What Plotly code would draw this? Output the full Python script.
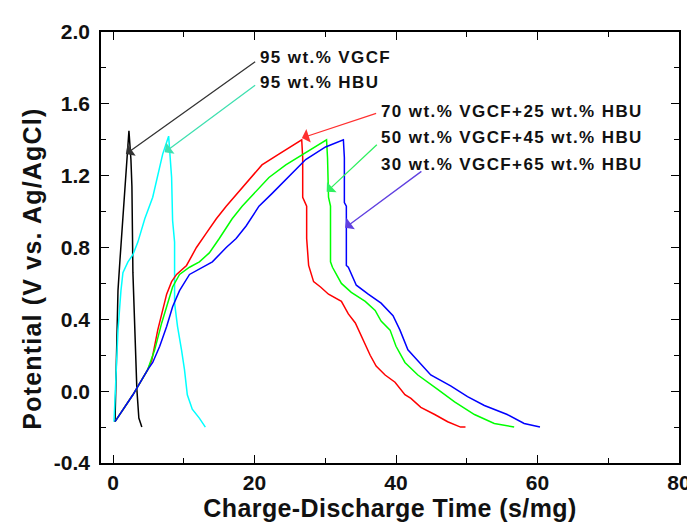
import plotly.graph_objects as go

# ---- data ----
vgcf_x = [0.28, 0.56, 0.70, 0.98, 1.40, 1.68, 1.96, 2.25, 2.53, 2.67, 2.81, 3.09, 3.37, 3.65, 4.07]
vgcf_y = [-0.17, 0.24, 0.56, 0.73, 0.98, 1.14, 1.29, 1.45, 1.29, 1.14, 0.66, 0.34, 0.01, -0.15, -0.20]

hbu_x = [0.14, 0.56, 0.70, 1.12, 1.40, 2.11, 2.81, 3.51, 4.49, 5.61, 7.02, 7.86,
         8.28, 8.42, 8.70, 8.70, 9.12, 9.68, 10.1, 10.5, 11.2, 12.2, 13.05]
hbu_y = [-0.17, 0.16, 0.34, 0.56, 0.66, 0.72, 0.76, 0.83, 0.96, 1.08, 1.32, 1.42,
         1.19, 0.95, 0.83, 0.49, 0.36, 0.23, 0.12, -0.02, -0.10, -0.15, -0.20]

m70_x = [0.28, 2.81, 4.91, 5.47, 6.32, 7.02, 7.58, 8.28, 8.98, 10.39, 11.79, 13.19, 14.60, 16.00,
         19.23, 21.05, 23.44, 26.67, 26.81, 26.81, 27.37, 27.37, 27.65, 28.35, 29.33, 30.46,
         32.28, 33.26, 34.25, 35.37, 36.35, 37.19, 38.46, 39.86, 41.26, 42.11, 43.51, 45.47,
         47.30, 49.12, 49.82]
m70_y = [-0.17, -0.02, 0.12, 0.17, 0.34, 0.45, 0.54, 0.61, 0.65, 0.70, 0.80, 0.88, 0.96, 1.03,
         1.18, 1.26, 1.32, 1.40, 1.30, 1.08, 1.03, 0.85, 0.70, 0.61, 0.58, 0.54,
         0.50, 0.43, 0.38, 0.28, 0.20, 0.14, 0.09, 0.05, -0.02, -0.04, -0.09, -0.13,
         -0.17, -0.20, -0.20]

m50_x = [0.28, 2.81, 4.91, 5.89, 6.88, 7.72, 8.42, 9.40, 10.81, 12.21, 13.61, 15.02, 16.84, 18.25,
         19.23, 22.04, 24.42, 26.95, 30.18, 30.32, 30.46, 30.74, 30.74, 31.02, 32.28, 33.68,
         35.65, 37.05, 37.89, 39.16, 40.00, 41.26, 43.09, 45.89, 48.28, 51.09, 53.89, 56.70]
m50_y = [-0.17, -0.02, 0.12, 0.23, 0.38, 0.49, 0.58, 0.65, 0.69, 0.72, 0.77, 0.85, 0.96, 1.03,
         1.07, 1.19, 1.26, 1.32, 1.40, 1.30, 1.08, 1.03, 0.72, 0.69, 0.60, 0.55,
         0.50, 0.45, 0.39, 0.34, 0.25, 0.16, 0.09, 0.01, -0.06, -0.13, -0.18, -0.20]

m30_x = [0.28, 2.81, 4.91, 5.61, 6.60, 7.58, 8.42, 9.40, 10.81, 12.63, 14.04, 16.00, 17.40, 18.81,
         20.63, 22.46, 24.42, 27.23, 30.04, 32.56, 32.70, 32.70, 32.98, 32.98, 33.26, 34.39,
         36.07, 37.89, 39.58, 40.56, 41.68, 43.09, 44.91, 47.72, 50.11, 52.49, 55.72, 58.11, 60.35]
m30_y = [-0.17, -0.02, 0.12, 0.16, 0.25, 0.36, 0.47, 0.56, 0.65, 0.69, 0.72, 0.80, 0.85, 0.92,
         1.03, 1.10, 1.18, 1.29, 1.36, 1.40, 1.30, 1.05, 1.03, 0.70, 0.69, 0.59,
         0.54, 0.49, 0.42, 0.34, 0.23, 0.17, 0.09, 0.03, -0.03, -0.08, -0.13, -0.18, -0.20]

labels = ["95 wt.% VGCF", "95 wt.% HBU", "70 wt.% VGCF+25 wt.% HBU",
          "50 wt.% VGCF+45 wt.% HBU", "30 wt.% VGCF+65 wt.% HBU"]
x_ticks = [0, 20, 40, 60, 80]
y_ticks = [-0.4, 0.0, 0.4, 0.8, 1.2, 1.6, 2.0]
y_tick_text = ["-0.4", "0.0", "0.4", "0.8", "1.2", "1.6", "2.0"]

line_colors = ["#000000", "#00FFFF", "#FF0000", "#00FF00", "#0000FF"]
arrow_colors = ["#333333", "#3FE0B0", "#FF3030", "#30F060", "#6040E0"]

# label anchor (left/middle) and arrow tail/tip in data units
label_pos = [(20.5, 1.86), (20.5, 1.72), (37.6, 1.56), (37.6, 1.41), (37.6, 1.26)]
arrow_tail = [(20.3, 1.84), (20.3, 1.71), (37.4, 1.55), (37.5, 1.38), (43.8, 1.23)]
arrow_tip = [(1.82, 1.32), (7.30, 1.33), (26.7, 1.41), (30.2, 1.11), (32.8, 0.91)]

series = [(vgcf_x, vgcf_y), (hbu_x, hbu_y), (m70_x, m70_y), (m50_x, m50_y), (m30_x, m30_y)]

fig = go.Figure()
for (xs, ys), name, c in zip(series, labels, line_colors):
    fig.add_trace(go.Scatter(x=xs, y=ys, mode="lines", name=name,
                             line=dict(color=c, width=1.5), showlegend=False))

font_main = "Liberation Sans, Arial, sans-serif"


def spaced(t, sp):
    return '<span style="letter-spacing:%spx">%s</span>' % (sp, t)


annotations = []
for name, (lx, ly), (tx, ty), (hx, hy), ac in zip(labels, label_pos, arrow_tail, arrow_tip, arrow_colors):
    annotations.append(dict(x=hx, y=hy, ax=tx, ay=ty, xref="x", yref="y", axref="x", ayref="y",
                            text="", showarrow=True, arrowhead=1, arrowsize=1.8,
                            arrowwidth=1.3, arrowcolor=ac))
    annotations.append(dict(x=lx, y=ly, xref="x", yref="y", text="<b>" + spaced(name, 1.4) + "</b>",
                            showarrow=False, xanchor="left", yanchor="middle",
                            font=dict(family=font_main, size=17, color="#111111")))

# y-axis title as a rotated annotation (placed as in the reference)
annotations.append(dict(xref="paper", yref="paper", x=-0.12, y=0.45,
                        text="<b>" + spaced("Potential (V vs. Ag/AgCl)", 1.2) + "</b>",
                        textangle=-90, showarrow=False, xanchor="center", yanchor="middle",
                        font=dict(family=font_main, size=25, color="#111111")))

axis_common = dict(showline=True, linecolor="black", linewidth=1.5, mirror="allticks",
                   ticks="inside", ticklen=8, tickwidth=1.2, tickcolor="black",
                   showgrid=False, zeroline=False,
                   tickfont=dict(family=font_main, size=21, color="#111111"))

fig.update_layout(
    width=695, height=529,
    margin=dict(l=93, r=20, t=14, b=74),
    paper_bgcolor="white", plot_bgcolor="white",
    xaxis=dict(range=[-1.7, 80], tickvals=x_ticks,
               ticktext=["<b>%d</b>" % v for v in x_ticks],
               minor=dict(ticks="inside", ticklen=5, tickvals=[10, 30, 50, 70], tickcolor="black"),
               ticklabelstandoff=0,
               title=dict(text="<b>" + spaced("Charge-Discharge Time (s/mg)", 0.4) + "</b>", standoff=6,
                          font=dict(family=font_main, size=25, color="#111111")),
               **axis_common),
    yaxis=dict(range=[-0.4, 2.0], tickvals=y_ticks,
               ticktext=["<b>%s</b>" % t for t in y_tick_text],
               minor=dict(ticks="inside", ticklen=5, tickvals=[-0.2, 0.2, 0.6, 1.0, 1.4, 1.8],
                          tickcolor="black"),
               ticklabelstandoff=5,
               **axis_common),
    annotations=annotations,
)

fig.write_html("out.html")
